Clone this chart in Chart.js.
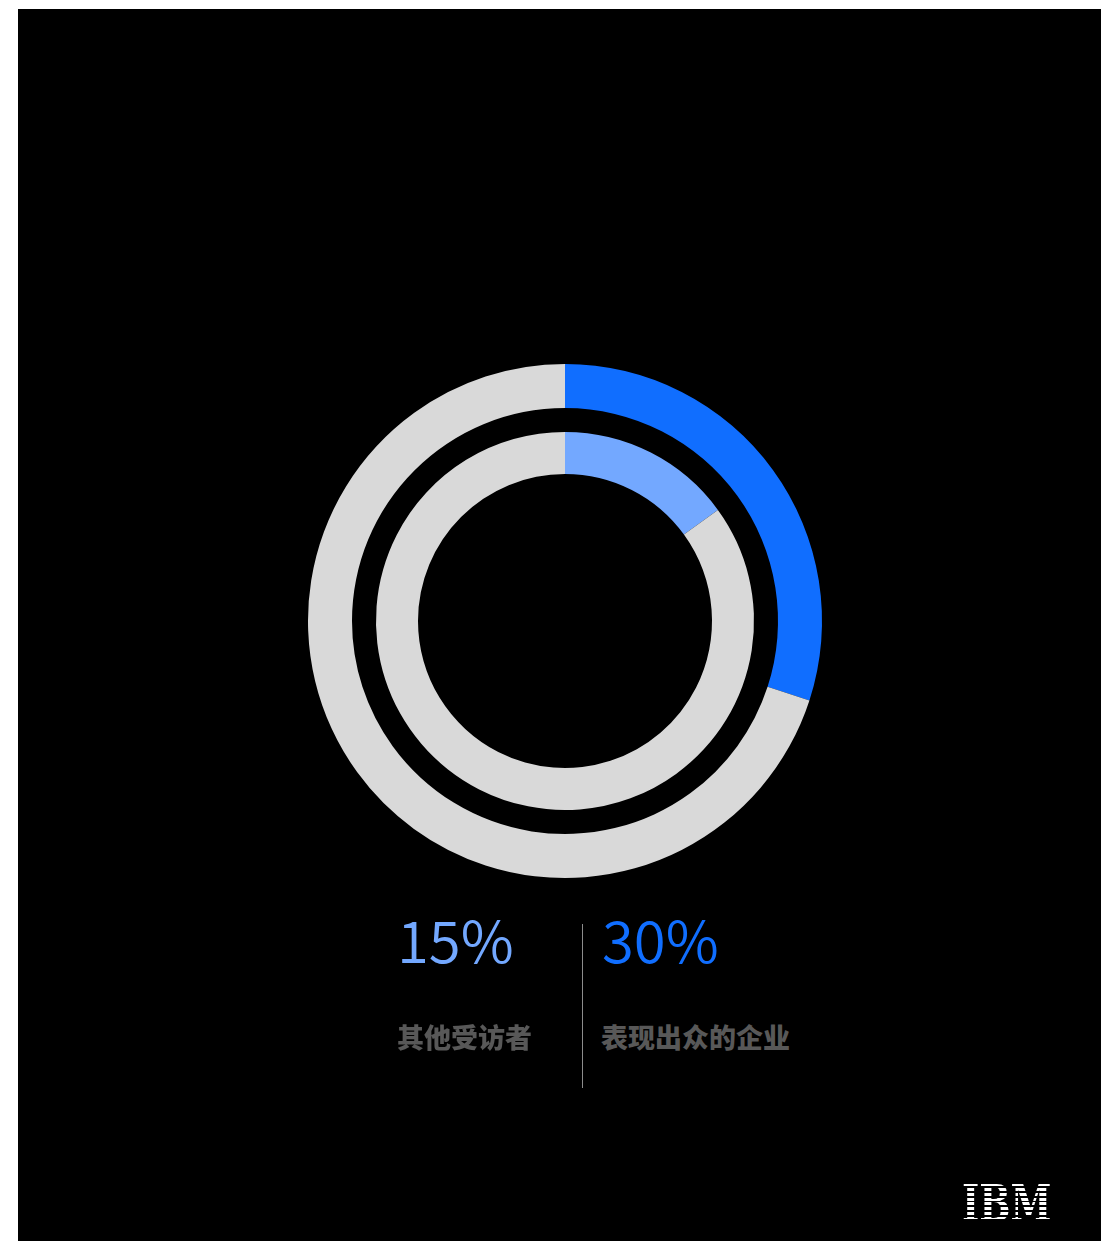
<!DOCTYPE html>
<html>
<head>
<meta charset="utf-8">
<script src="https://cdn.jsdelivr.net/npm/chart.js@4"></script>
<style>
    body { margin: 0; background: #fff; }
    #panel { position: absolute; left: 18px; top: 9px; width: 1083px; height: 1232px; background: #000; overflow: hidden; }
    #wrap { position: absolute; left: 247px; top: 312px; width: 600px; height: 600px; }
    .pct { position: absolute; font-family: "Noto Sans CJK SC", "Noto Sans", sans-serif; font-weight: 350; font-size: 58px; line-height: 58px; }
    .lbl { position: absolute; font-family: "Noto Sans CJK SC", sans-serif; font-weight: 900; font-size: 27px; line-height: 27px; color: #585858; }
    #divider { position: absolute; left: 564px; top: 915px; width: 1px; height: 164px; background: #8c8c8c; }
    #ibm { position: absolute; left: 944px; top: 1170px; font-family: "DejaVu Serif", serif; font-weight: bold; font-size: 50px; line-height: 50px;
        transform: scaleX(0.74); transform-origin: left top;
        background: repeating-linear-gradient(to bottom, #fff 0, #fff 2.8px, transparent 2.8px, transparent 4.7px);
        -webkit-background-clip: text; background-clip: text; color: transparent; }
</style>
</head>
<body>
<div id="panel">
    <div id="wrap"><canvas id="donut"></canvas></div>
    <div class="pct" id="pct1" style="left:379px; top:900px; color:#73a8ff;"></div>
    <div class="lbl" id="lbl1" style="left:379px; top:1014px;"></div>
    <div id="divider"></div>
    <div class="pct" id="pct2" style="left:584px; top:900px; color:#106eff;"></div>
    <div class="lbl" id="lbl2" style="left:583px; top:1014px;"></div>
    <div id="ibm">IBM</div>
</div>
<script>
// 数据
var categories = ['其他受访者', '表现出众的企业'];
var innerValues = [15, 85];   // 其他受访者
var outerValues = [30, 70];   // 表现出众的企业
var gapValues = [100];        // 两环之间的空隙

var innerColors = ['#73a8ff', '#d9d9d9'];
var outerColors = ['#106eff', '#d9d9d9'];

// 文字
document.getElementById('pct1').textContent = innerValues[0] + '%';
document.getElementById('pct2').textContent = outerValues[0] + '%';
document.getElementById('lbl1').textContent = categories[0];
document.getElementById('lbl2').textContent = categories[1];

var ctx = document.getElementById('donut').getContext('2d');
new Chart(ctx, {
    type: 'doughnut',
    data: {
        labels: ['value', 'rest'],
        datasets: [
            {
                label: categories[1],
                data: outerValues,
                backgroundColor: outerColors,
                borderWidth: 0,
                weight: 44
            },
            {
                label: 'gap',
                data: gapValues,
                backgroundColor: 'rgba(0,0,0,0)',
                borderWidth: 0,
                weight: 24
            },
            {
                label: categories[0],
                data: innerValues,
                backgroundColor: innerColors,
                borderWidth: 0,
                weight: 42
            }
        ]
    },
    options: {
        responsive: true,
        maintainAspectRatio: true,
        animation: false,
        radius: 257,
        cutout: '57.2%',   // 内径 147 / 外径 257
        layout: { padding: 0 },
        plugins: {
            legend: { display: false },
            tooltip: { enabled: false }
        }
    }
});
</script>
</body>
</html>
